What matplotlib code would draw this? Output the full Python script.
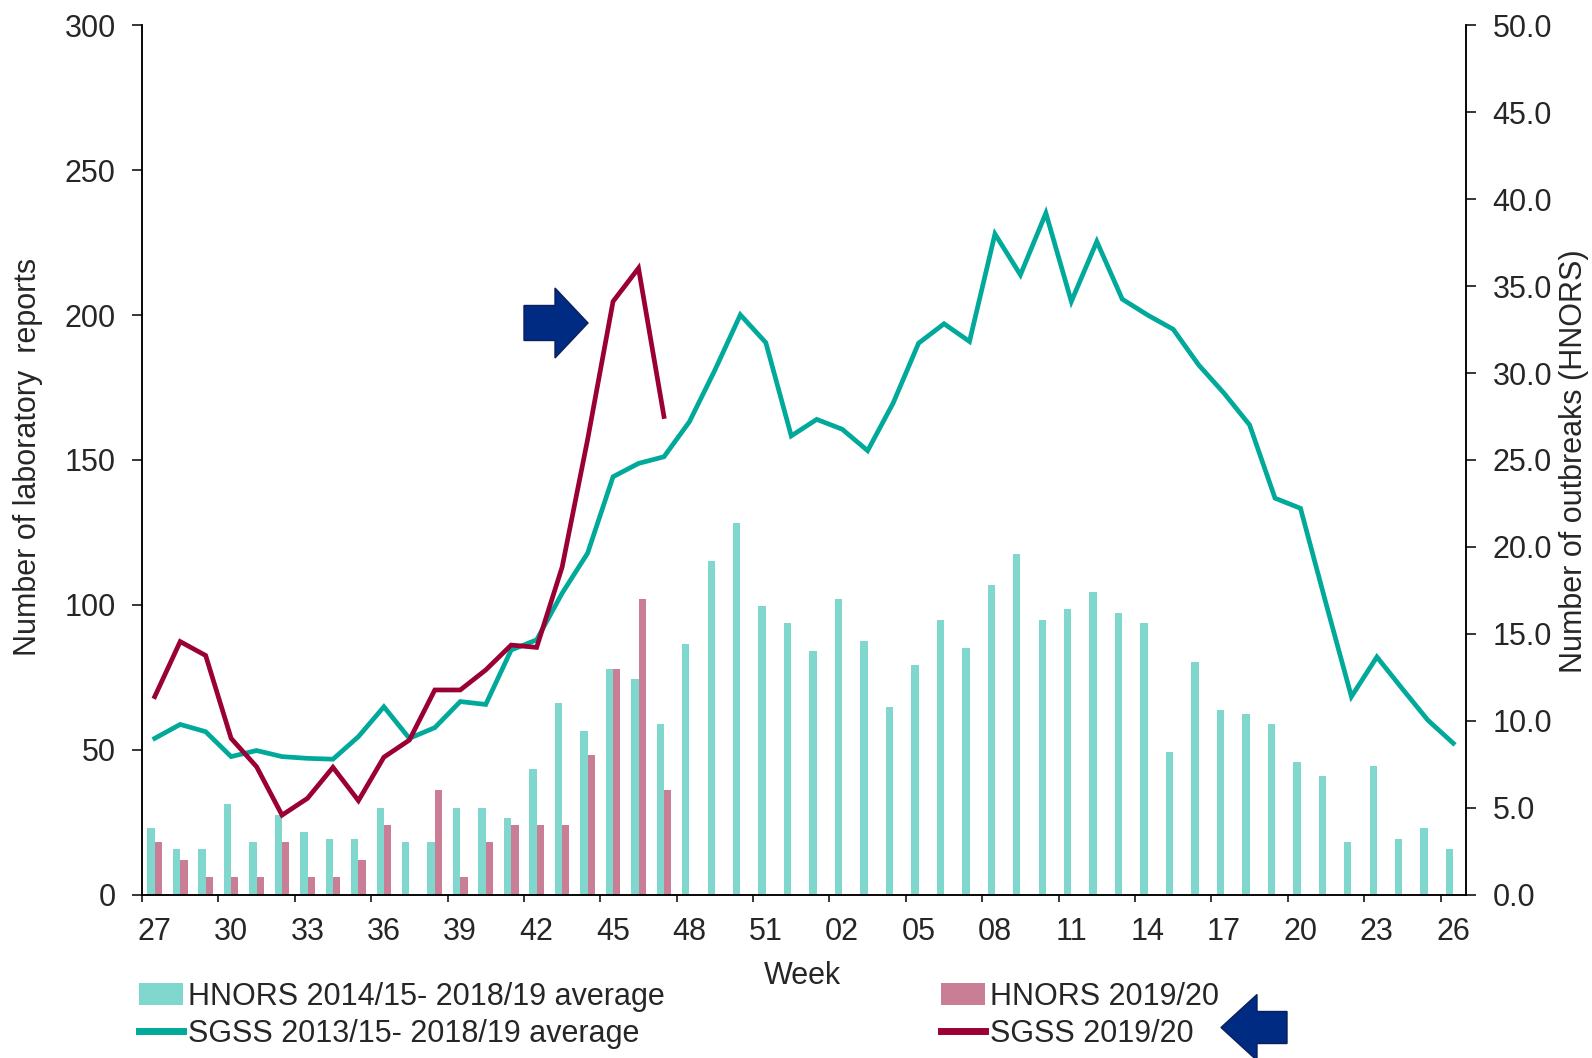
import numpy as np
import matplotlib
matplotlib.use("Agg")
import matplotlib.pyplot as plt
from matplotlib.patches import Polygon, Patch
from matplotlib.lines import Line2D

plt.rcParams['font.family'] = ['Liberation Sans', 'DejaVu Sans']

week_labels = ['27', '28', '29', '30', '31', '32', '33', '34', '35', '36', '37', '38', '39',
               '40', '41', '42', '43', '44', '45', '46', '47', '48', '49', '50', '51', '52',
               '01', '02', '03', '04', '05', '06', '07', '08', '09', '10', '11', '12', '13',
               '14', '15', '16', '17', '18', '19', '20', '21', '22', '23', '24', '25', '26']

# HNORS outbreaks (right axis)
hnors_avg = [3.8, 2.6, 2.6, 5.2, 3.0, 4.6, 3.6, 3.2, 3.2, 5.0, 3.0, 3.0, 5.0,
             5.0, 4.4, 7.2, 11.0, 9.4, 13.0, 12.4, 9.8, 14.4, 19.2, 21.4, 16.6, 15.6,
             14.0, 17.0, 14.6, 10.8, 13.2, 15.8, 14.2, 17.8, 19.6, 15.8, 16.4, 17.4, 16.2,
             15.6, 8.2, 13.4, 10.6, 10.4, 9.8, 7.6, 6.8, 3.0, 7.4, 3.2, 3.8, 2.6]
hnors_1920 = [3, 2, 1, 1, 1, 3, 1, 1, 2, 4, 0, 6, 1, 3, 4, 4, 4, 8, 13, 17, 6]

# SGSS laboratory reports (left axis)
sgss_avg = [53.9, 58.7, 56.2, 47.6, 49.7, 47.6, 47.0, 46.7, 54.5, 64.8, 53.9, 57.6, 66.6,
            65.6, 84.4, 87.9, 104.0, 117.8, 144.2, 148.8, 151.1, 163.2, 181.0, 200.1, 190.5, 158.3,
            164.0, 160.6, 153.2, 169.6, 190.3, 197.0, 190.9, 228.0, 213.9, 235.2, 204.7, 225.4, 205.5,
            200.0, 195.1, 182.8, 173.0, 162.1, 136.8, 133.3, 100.5, 68.3, 82.0, 71.0, 60.2, 52.2]
sgss_1920 = [68.3, 87.3, 82.5, 53.9, 44.1, 27.4, 33.2, 43.9, 32.4, 47.4, 53.3, 70.6, 70.6,
             77.5, 86.1, 85.3, 113.0, 157.0, 204.7, 216.2, 165.0]

W, H = 1592, 1058
TEAL = '#00A99A'
CRIMSON = '#9A0034'
CYAN = '#80D7CD'
PINK = '#C97E95'
NAVY = '#002B82'
TXT = '#262626'
FS = 22


def block_arrow(fig, tip_x, tip_y, base_x, tail_x, head_half, shaft_half):
	# pixel coords, y measured from the top
	pts = [(tail_x, tip_y - shaft_half), (base_x, tip_y - shaft_half), (base_x, tip_y - head_half),
	       (tip_x, tip_y), (base_x, tip_y + head_half), (base_x, tip_y + shaft_half),
	       (tail_x, tip_y + shaft_half)]
	pts = [(px / W, 1 - py / H) for px, py in pts]
	fig.patches.append(Polygon(pts, closed=True, transform=fig.transFigure,
	                           facecolor=NAVY, edgecolor='#0B1F5C', lw=1.0, zorder=10))


def main():
	fig = plt.figure(figsize=(W / 100, H / 100), dpi=100)
	ax = fig.add_axes([142 / W, 1 - 894.5 / H, 1324 / W, 869.1 / H])
	ax2 = ax.twinx()
	ax.set_zorder(ax2.get_zorder() + 1)
	ax.patch.set_visible(False)

	x = np.arange(len(week_labels))
	n20 = len(hnors_1920)
	ax2.bar(x - 0.145, hnors_avg, width=0.29, color=CYAN, lw=0)
	ax2.bar(x[:n20] + 0.145, hnors_1920, width=0.29, color=PINK, lw=0)

	ax.plot(x, sgss_avg, color=TEAL, lw=3.4, solid_joinstyle='miter')
	ax.plot(x[:len(sgss_1920)], sgss_1920, color=CRIMSON, lw=3.4, solid_joinstyle='miter')

	ax.set_xlim(-0.5, len(week_labels) - 0.5)
	ax.set_ylim(0, 300)
	ax2.set_ylim(0, 50)
	ax.set_yticks(np.arange(0, 301, 50))
	ax2.set_yticks(np.arange(0, 51, 5))
	ax2.set_yticklabels([f"{v:.1f}" for v in np.arange(0, 51, 5)])

	ax.set_xticks(x[::3])
	ax.set_xticklabels(week_labels[::3])
	ax.set_xticks(np.arange(-0.5, len(week_labels), 3), minor=True)

	for a in (ax, ax2):
		a.spines['top'].set_visible(False)
		for s in ('left', 'right', 'bottom'):
			a.spines[s].set_linewidth(1.1)
			a.spines[s].set_color('black')
	ax.tick_params(axis='x', which='major', length=0, pad=16, labelsize=FS, labelcolor=TXT)
	ax.tick_params(axis='x', which='minor', length=5, width=1.1, direction='out')
	ax.tick_params(axis='y', length=7, width=1.1, direction='out', pad=12, labelsize=FS, labelcolor=TXT)
	ax2.tick_params(axis='y', length=7, width=1.1, direction='out', pad=12, labelsize=FS, labelcolor=TXT)

	fig.text(28 / W, 1 - 457 / H, "Number of laboratory  reports", rotation=90,
	         ha='center', va='center', fontsize=FS, color=TXT)
	fig.text(1574 / W, 1 - 461 / H, "Number of outbreaks (HNORS)", rotation=90,
	         ha='center', va='center', fontsize=FS, color=TXT)
	fig.text(802 / W, 1 - 976 / H, "Week", ha='center', va='center', fontsize=FS, color=TXT)

	leg_kw = dict(frameon=False, fontsize=FS, borderpad=0, borderaxespad=0, labelspacing=0.22,
	              handlelength=1.45, handleheight=0.72, handletextpad=0.15, loc='upper left',
	              labelcolor=TXT)
	h1 = [Patch(facecolor=CYAN, lw=0), Line2D([], [], color=TEAL, lw=5)]
	fig.legend(h1, ["HNORS 2014/15- 2018/19 average", "SGSS 2013/15- 2018/19 average"],
	           bbox_to_anchor=(139 / W, 1 - 982 / H), **leg_kw)
	h2 = [Patch(facecolor=PINK, lw=0), Line2D([], [], color=CRIMSON, lw=5)]
	fig.legend(h2, ["HNORS 2019/20", "SGSS 2019/20"],
	           bbox_to_anchor=(941 / W, 1 - 982 / H), **leg_kw)

	block_arrow(fig, 588, 323, 555, 524, 35, 17.5)
	block_arrow(fig, 1221, 1027.5, 1257, 1287, 33, 16)

	fig.savefig("out.png", dpi=100)


if __name__ == '__main__':
	main()
